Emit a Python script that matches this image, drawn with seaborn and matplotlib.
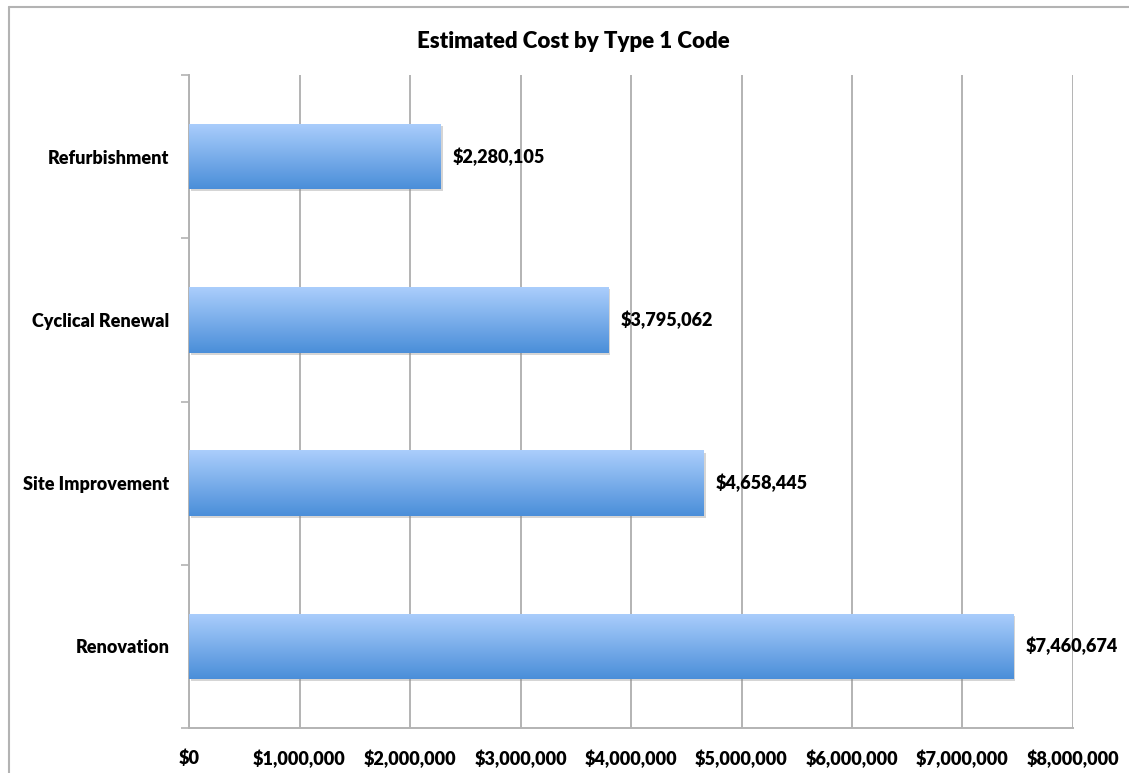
import numpy as np
import pandas as pd
import seaborn as sns
import matplotlib
matplotlib.use("Agg")
import matplotlib.pyplot as plt
import matplotlib.patheffects as pe
from matplotlib.colors import to_rgb
from matplotlib.lines import Line2D
from matplotlib.ticker import FuncFormatter, MultipleLocator, FixedLocator

# Data
categories = ["Refurbishment", "Cyclical Renewal", "Site Improvement", "Renovation"]
costs = [2280105, 3795062, 4658445, 7460674]
title_text = "Estimated Cost by Type 1 Code"

sns.set_theme(style="white")
plt.rcParams["font.family"] = ["Lato", "DejaVu Sans"]

FW = "heavy"
FS = 13

df = pd.DataFrame({"category": categories, "cost": costs})

W, H, DPI = 1129, 773, 100
fig = plt.figure(figsize=(W / DPI, H / DPI), dpi=DPI)
fig.patch.set_facecolor("white")

# Chart-area border (left and top edges visible)
bx, by = 8.5 / W, 1 - 6.5 / H
fig.add_artist(Line2D([bx, bx], [0, by], transform=fig.transFigure,
                      color="#b3b3b3", linewidth=1.5))
fig.add_artist(Line2D([bx, 1], [by, by], transform=fig.transFigure,
                      color="#b3b3b3", linewidth=1.5))

ax = fig.add_axes([189 / W, 1 - 728 / H, (1073 - 189) / W, (728 - 75) / H])

top_c = np.array(to_rgb("#abcefc"))
bot_c = np.array(to_rgb("#4a8ed9"))

sns.barplot(data=df, y="category", x="cost", orient="h", color="#4a8ed9",
            width=0.4, ax=ax, zorder=3)

# Vertical gradient fill for each bar
grad = np.linspace(0, 1, 256)[:, None, None]
grad_img = top_c * (1 - grad) + bot_c * grad
for patch in ax.patches:
    x0, y0 = patch.get_x(), patch.get_y()
    w, h = patch.get_width(), patch.get_height()
    patch.set_edgecolor("none")
    patch.set_path_effects([pe.SimplePatchShadow(offset=(1.5, -1.5), shadow_rgbFace="#888888", alpha=0.35),
                            pe.Normal()])
    im = ax.imshow(grad_img, extent=(x0, x0 + w, y0 + h, y0), origin="upper",
                   aspect="auto", zorder=3.5, interpolation="bilinear")
    im.set_clip_path(patch)

# Value labels
for i, v in enumerate(costs):
    ax.annotate(f"${v:,.0f}", xy=(v, i), xytext=(8.5, 0), textcoords="offset points",
                va="center", ha="left", fontsize=FS, fontweight=FW,
                color="black", zorder=5)

ax.set_xlim(0, 8000000)
ax.set_ylim(3.5, -0.5)
ax.set_xlabel("")
ax.set_ylabel("")

ax.xaxis.set_major_locator(MultipleLocator(1000000))
ax.xaxis.set_major_formatter(FuncFormatter(lambda v, p: f"${v:,.0f}"))
ax.grid(axis="x", color="#b3b3b3", linewidth=1.4, zorder=1)
ax.grid(axis="y", visible=False)
ax.set_axisbelow(True)

ax.tick_params(axis="x", which="major", direction="out", length=6, width=1.2,
               color="#b3b3b3", pad=9.5, labelsize=FS, labelcolor="black")
ax.set_yticks(range(len(categories)))
ax.set_yticklabels(categories)
ax.yaxis.set_minor_locator(FixedLocator([-0.5, 0.5, 1.5, 2.5, 3.5]))
ax.tick_params(axis="y", which="major", length=0, pad=14, labelsize=FS, labelcolor="black")
ax.tick_params(axis="y", which="minor", direction="out", length=6, width=1.2, color="#b3b3b3", left=True)
for lab in ax.get_xticklabels() + ax.get_yticklabels():
    lab.set_fontweight(FW)

for s in ["top", "right"]:
    ax.spines[s].set_visible(False)
for s in ["left", "bottom"]:
    ax.spines[s].set_color("#b3b3b3")
    ax.spines[s].set_linewidth(1.4)

fig.text(573 / W, 1 - 41 / H, title_text, ha="center", va="center",
         fontsize=16, fontweight=FW, color="black")

fig.savefig("out.png", dpi=DPI, facecolor="white")
